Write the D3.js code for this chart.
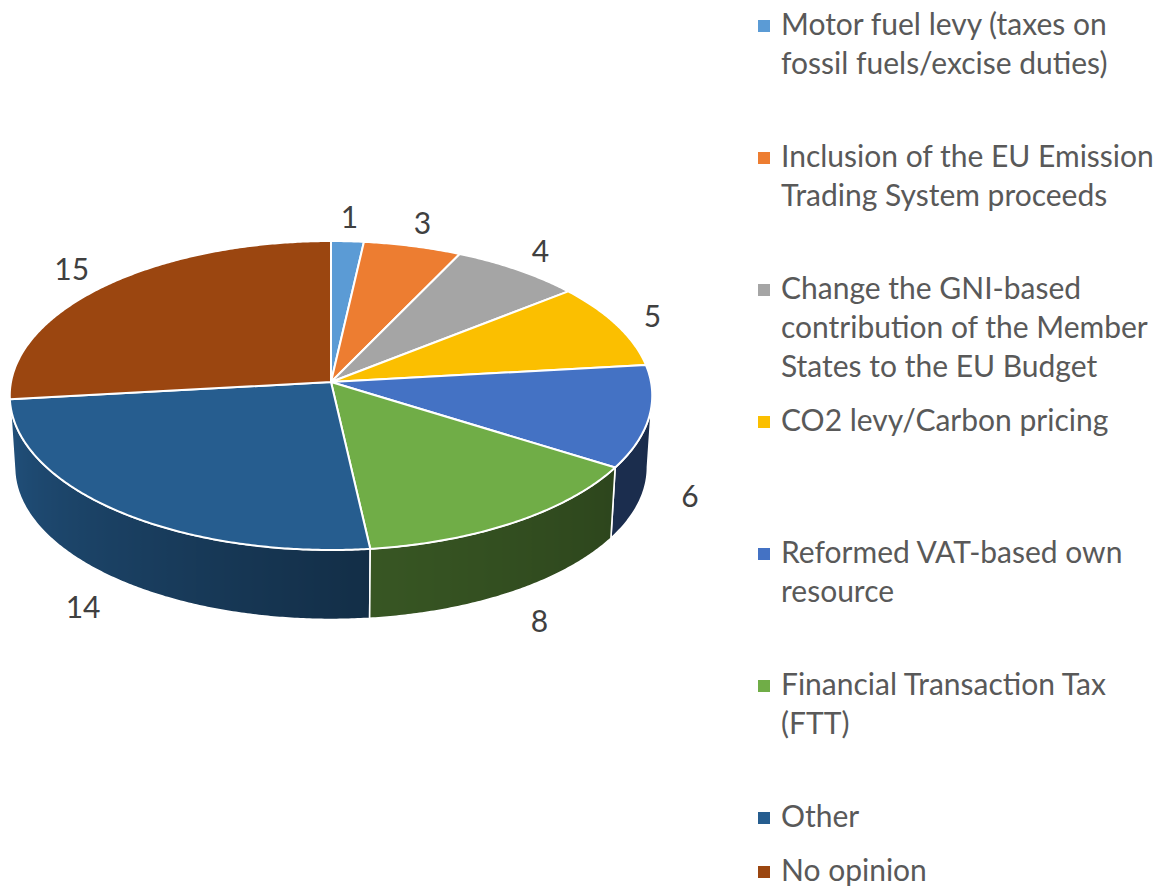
<!DOCTYPE html>
<html>
<head>
<meta charset="utf-8">
<script src="https://cdn.jsdelivr.net/npm/d3@7/dist/d3.min.js"></script>
<style>
  html, body { margin: 0; padding: 0; background: #ffffff; }
  svg { display: block; }
</style>
</head>
<body>
<svg id="chart" width="1156" height="886"></svg>
<script>
// ---------- data ----------
const categories = [
  "Motor fuel levy (taxes on fossil fuels/excise duties)",
  "Inclusion of the EU Emission Trading System proceeds",
  "Change the GNI-based contribution of the Member States to the EU Budget",
  "CO2 levy/Carbon pricing",
  "Reformed VAT-based own resource",
  "Financial Transaction Tax (FTT)",
  "Other",
  "No opinion"
];
const legendLines = [
  ["Motor fuel levy (taxes on", "fossil fuels/excise duties)"],
  ["Inclusion of the EU Emission", "Trading System proceeds"],
  ["Change the GNI-based", "contribution of the Member", "States to the EU Budget"],
  ["CO2 levy/Carbon pricing"],
  ["Reformed VAT-based own", "resource"],
  ["Financial Transaction Tax", "(FTT)"],
  ["Other"],
  ["No opinion"]
];
const values = [1, 3, 4, 5, 6, 8, 14, 15];
const colors = ["#5b9bd5", "#ed7d31", "#a5a5a5", "#fbbf00", "#4472c4", "#70ad47", "#265d8f", "#9b4610"];

// ---------- geometry ----------
const svg = d3.select("#chart");
const defs = svg.append("defs");
const cx = 331, cy = 382;
const k = 0.0874;          // perspective factor
const depth = 72;          // thickness of the pie
const bottomScale = 0.985; // bottom face slightly smaller (further from viewer)

const xScale = d3.scaleLinear().domain([-1, 1]).range([cx - 320, cx + 320]);
const yScale = d3.scaleLinear().domain([-1, 1]).range([cy + 153.3, cy - 153.3]);

function project(theta, r, bottom) {
  const s = bottom ? bottomScale : 1;
  const u = r * Math.sin(theta), v = r * Math.cos(theta);
  const w = 1 + k * v;
  const x = cx + (xScale(u / w) - cx) * s;
  const y = cy + (yScale(v / w) - cy) * s + (bottom ? depth : 0);
  return [x, y];
}

const pie = d3.pie().sort(null).value(d => d);
const arcs = pie(values).map((a, i) => ({ ...a, i }));

const STEP = Math.PI / 360;
function sampleAngles(s, e) {
  const n = Math.max(2, Math.ceil((e - s) / STEP));
  return d3.range(n + 1).map(j => s + (e - s) * j / n);
}
const line = d3.line();

// shading of the side walls depending on angle (degrees)
const shade = d3.scaleLinear().domain([95, 122, 175, 265]).range([0.38, 0.40, 0.50, 0.88]).clamp(true);

// ---------- walls ----------
const visS = Math.PI - Math.acos(k); // silhouette angles
const visE = Math.PI + Math.acos(k);
const walls = arcs.map(a => {
  const s = Math.max(a.startAngle, visS), e = Math.min(a.endAngle, visE);
  return { a, s, e };
}).filter(w => w.e > w.s)
  .sort((p, q) => Math.cos((q.s + q.e) / 2) - Math.cos((p.s + p.e) / 2));

walls.forEach(wl => {
  const angs = sampleAngles(wl.s, wl.e);
  const top = angs.map(t => project(t, 1, false));
  const bot = angs.map(t => project(t, 1, true)).reverse();
  const xs = top.map(p => p[0]);
  const x0 = d3.min(xs), x1 = d3.max(xs);
  const gid = "wallGrad" + wl.a.i;
  const g = defs.append("linearGradient").attr("id", gid)
    .attr("gradientUnits", "userSpaceOnUse")
    .attr("x1", x0).attr("x2", x1).attr("y1", 0).attr("y2", 0);
  const base = d3.rgb(colors[wl.a.i]);
  const stops = angs.map((t, j) => ({ off: (x1 > x0) ? (top[j][0] - x0) / (x1 - x0) : 0, f: shade(t * 180 / Math.PI) }))
    .sort((p, q) => p.off - q.off);
  stops.forEach(st => {
    g.append("stop").attr("offset", st.off)
      .attr("stop-color", d3.rgb(base.r * st.f, base.g * st.f, base.b * st.f).formatHex());
  });
  svg.append("path")
    .attr("d", line(top.concat(bot)) + "Z")
    .attr("fill", `url(#${gid})`)
    .attr("stroke", "#ffffff")
    .attr("stroke-width", 1.6)
    .attr("stroke-linejoin", "round");
});

// ---------- top faces ----------
arcs.forEach(a => {
  const pts = [[cx, cy]].concat(sampleAngles(a.startAngle, a.endAngle).map(t => project(t, 1, false)));
  svg.append("path")
    .attr("d", line(pts) + "Z")
    .attr("fill", colors[a.i])
    .attr("stroke", "#ffffff")
    .attr("stroke-width", 2)
    .attr("stroke-linejoin", "round");
});

// ---------- data labels ----------
const labelFont = "Lato, 'Open Sans', sans-serif";
arcs.forEach(a => {
  const mid = (a.startAngle + a.endAngle) / 2;
  const front = Math.cos(mid) < 0;
  const p = project(mid, 1.1, false);
  const txt = String(a.data);
  const halfW = txt.length * 8.5, halfH = 12;
  const x = p[0] + Math.sin(mid) * halfW;
  const y = p[1] - Math.cos(mid) * halfH + (front ? depth : 0);
  svg.append("text")
    .attr("x", x).attr("y", y)
    .attr("text-anchor", "middle")
    .attr("dominant-baseline", "central")
    .attr("font-family", labelFont)
    .attr("font-size", 30)
    .attr("fill", "#404040")
    .text(txt);
});

// ---------- legend ----------
const legendX = 758, textX = 781, lineH = 39;
const slotY = d3.scaleLinear().domain([0, 6]).range([35, 827]);
const legendBase = legendLines.map((_, i) => i < 7 ? slotY(i) : slotY(6) + 54);
const lg = svg.append("g");
legendLines.forEach((lines, i) => {
  const by = legendBase[i];
  lg.append("rect")
    .attr("x", legendX).attr("y", by - 15)
    .attr("width", 12).attr("height", 12)
    .attr("fill", colors[i]);
  const t = lg.append("text")
    .attr("font-family", labelFont)
    .attr("font-size", 30)
    .attr("fill", "#595959");
  lines.forEach((ln, j) => {
    t.append("tspan").attr("x", textX).attr("y", by + j * lineH).text(ln);
  });
});
</script>
</body>
</html>
